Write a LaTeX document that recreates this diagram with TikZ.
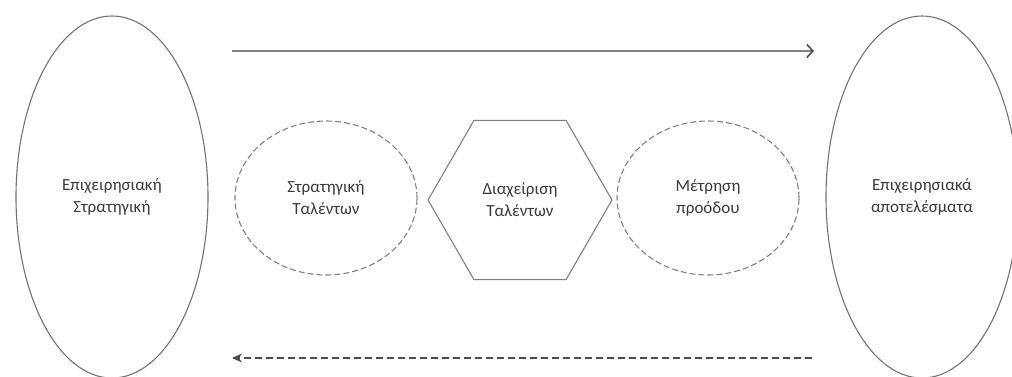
\documentclass[tikz,border=0pt]{standalone}
\usepackage{fontspec}
\setmainfont{Carlito}
\usetikzlibrary{shapes.geometric,arrows.meta}
\definecolor{edgegray}{HTML}{808080}
\definecolor{textgray}{HTML}{3A3A3A}

\begin{document}
\begin{tikzpicture}[x=1pt, y=-1pt,
  outer/.style={ellipse, draw=edgegray!90!black, line width=1.1pt,
    minimum width=192pt, minimum height=362pt},
  stage/.style={ellipse, draw=edgegray, line width=1.1pt,
    dash pattern=on 6pt off 3pt, minimum width=182pt, minimum height=154pt},
  core/.style={regular polygon, regular polygon sides=6, draw=edgegray,
    line width=1.1pt, minimum size=184pt},
  txt/.style={text=textgray, font=\fontsize{17}{22}\selectfont, align=center},
  flow/.style={draw=edgegray, line width=1.6pt,
    -{Straight Barb[length=6pt, width=13pt, color=black!70]}},
  back/.style={draw=black!70, line width=1.1pt, dash pattern=on 7pt off 4pt,
    -{Stealth[length=10pt, width=9pt]}}]

  \useasboundingbox (0,0) rectangle (1012,376);

  % Strategy and results (outer ellipses)
  \node[outer, txt] (bizstrat) at (112,197) {Επιχειρησιακή\\Στρατηγική};
  \node[outer, txt] (bizres) at (922,197) {Επιχειρησιακά\\αποτελέσματα};

  % Talent cycle in the middle
  \node[stage, txt] (talstrat) at (326,198) {Στρατηγική\\Ταλέντων};
  \node[core, txt] (talmgmt) at (520,200) {Διαχείριση\\Ταλέντων};
  \node[stage, txt] (progress) at (708,198) {Μέτρηση\\προόδου};

  % Forward and feedback arrows
  \coordinate (fwdstart) at (232,51);
  \coordinate (fwdend) at (814,51);
  \coordinate (backstart) at (812,358);
  \coordinate (backend) at (232,358);
  \draw[flow] (fwdstart) -- (fwdend);
  \draw[back] (backstart) -- (backend);

\end{tikzpicture}
\end{document}
